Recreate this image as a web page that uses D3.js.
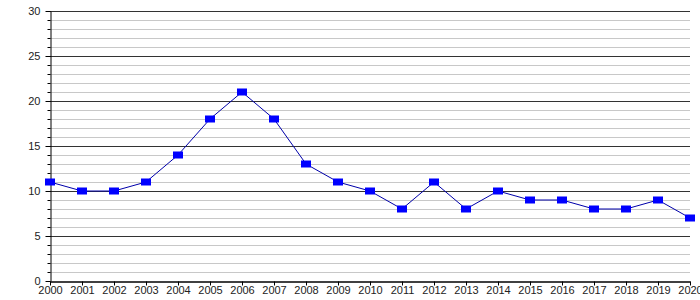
<!DOCTYPE html>
<html>
<head>
<meta charset="utf-8">
<title>chart</title>
<style>
  body { margin: 0; background: #fff; }
  .tick text { font: 11px "Liberation Sans", Arial, sans-serif; fill: #222; }
  .line { fill: none; stroke: #0000aa; stroke-width: 1; }
  .dot { fill: #0000ff; }
</style>
</head>
<body>
<script src="https://cdn.jsdelivr.net/npm/d3@7"></script>
<script>
var years = [2000, 2001, 2002, 2003, 2004, 2005, 2006, 2007, 2008, 2009, 2010,
             2011, 2012, 2013, 2014, 2015, 2016, 2017, 2018, 2019, 2020];
var values = [11, 10, 10, 11, 14, 18, 21, 18, 13, 11, 10,
              8, 11, 8, 10, 9, 9, 8, 8, 9, 7];
var yMajorTicks = [0, 5, 10, 15, 20, 25, 30];

var margin = {top: 11, right: 10, bottom: 19, left: 50},
    width = 700 - margin.left - margin.right,
    height = 300 - margin.top - margin.bottom;

var svg = d3.select("body").append("svg")
    .attr("width", 700)
    .attr("height", 300)
  .append("g")
    .attr("transform", "translate(" + margin.left + "," + margin.top + ")");

var x = d3.scaleLinear().domain([2000, 2020]).range([0, width]);
var y = d3.scaleLinear().domain([0, 30]).range([height, 0]);

// minor grid
svg.append("g")
  .selectAll("line")
  .data(d3.range(0, 31).filter(function(d) { return d % 5 != 0; }))
  .enter().append("line")
    .attr("x1", 0).attr("x2", width)
    .attr("y1", function(d) { return Math.round(y(d)) + 0.5; })
    .attr("y2", function(d) { return Math.round(y(d)) + 0.5; })
    .style("stroke", "#c8c8c8");

// major grid
svg.append("g")
  .selectAll("line")
  .data(yMajorTicks.slice(1))
  .enter().append("line")
    .attr("x1", 0).attr("x2", width)
    .attr("y1", function(d) { return Math.round(y(d)) + 0.5; })
    .attr("y2", function(d) { return Math.round(y(d)) + 0.5; })
    .style("stroke", "#333");

// y axis, minor ticks
svg.append("g")
    .attr("transform", "translate(0.5,0)")
    .call(d3.axisLeft(y).tickValues(d3.range(0, 31)).tickSize(3).tickFormat(""))
    .call(function(g) { g.select(".domain").remove(); })
    .selectAll("line").style("stroke", "#000");

// y axis, major ticks + labels
var yAxis = svg.append("g")
    .attr("transform", "translate(0.5,0)")
    .call(d3.axisLeft(y).tickValues(yMajorTicks).tickSize(5).tickPadding(5).tickSizeOuter(0));
yAxis.select(".domain").style("stroke", "#000");

// x axis
var xAxis = svg.append("g")
    .attr("transform", "translate(0," + (height + 0.5) + ")")
    .call(d3.axisBottom(x).tickValues(years).tickFormat(d3.format("d")).tickSize(4).tickPadding(1).tickSizeOuter(0));
xAxis.select(".domain").style("stroke", "#000").style("stroke-width", 1.5);

// line
svg.append("path")
    .datum(values)
    .attr("class", "line")
    .attr("d", d3.line()
      .x(function(d, i) { return x(years[i]); })
      .y(function(d) { return y(d); }));

// markers
svg.selectAll(".dot")
    .data(values)
  .enter().append("rect")
    .attr("class", "dot")
    .attr("x", function(d, i) { return x(years[i]) - 5; })
    .attr("y", function(d) { return y(d) - 3.5; })
    .attr("width", 10)
    .attr("height", 7);
</script>
</body>
</html>
